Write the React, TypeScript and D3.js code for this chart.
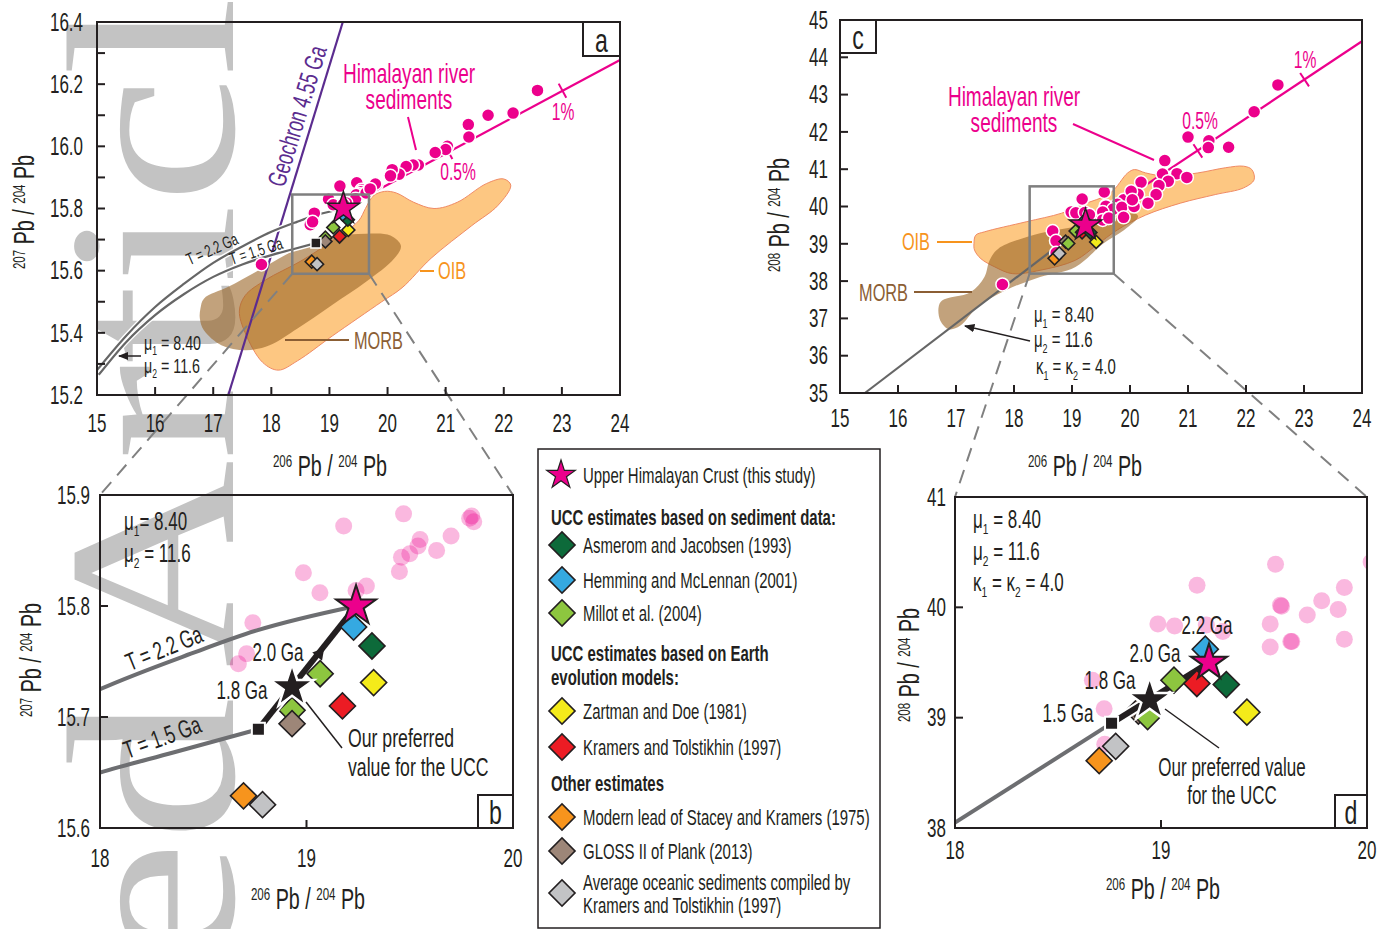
import React from "react";
import * as d3 from "d3";

const FONT = "'Liberation Sans',Arial,sans-serif";
const K = 0.68; // horizontal squeeze to mimic a condensed face
const INK = "#231f20";

// Himalayan river sediments, 206Pb/204Pb vs 207Pb/204Pb
const sed207: [number, number][] = [
  [19.47, 15.883], [19.18, 15.872], [19.8, 15.881], [19.81, 15.876], [19.79, 15.879],
  [19.55, 15.86], [19.54, 15.854], [19.5, 15.847], [19.46, 15.844], [19.45, 15.831],
  [19.63, 15.85], [19.7, 15.863], [18.985, 15.83], [19.065, 15.812], [19.29, 15.818],
  [19.24, 15.814], [18.74, 15.785], [18.67, 15.748], [18.71, 15.757],
  [22.58, 16.18], [21.73, 16.1], [22.16, 16.107], [21.39, 16.07], [21.4, 16.03],
  [21.03, 16.0], [21.0, 15.99], [20.82, 15.98], [20.53, 15.94], [20.44, 15.94],
  [20.32, 15.935], [20.2, 15.91], [20.08, 15.925], [20.05, 15.905], [17.83, 15.62],
];

// Himalayan river sediments, 206Pb/204Pb vs 208Pb/204Pb
const sed208: [number, number][] = [
  [19.556, 40.39], [19.175, 40.2], [19.89, 40.18], [19.58, 40.02], [19.585, 40.01],
  [19.78, 40.06], [19.71, 39.93], [19.86, 39.98], [19.53, 39.85], [18.985, 39.85],
  [19.066, 39.83], [19.22, 39.84], [19.3, 39.78], [19.53, 39.64], [19.63, 39.69],
  [19.635, 39.69], [19.89, 39.71], [18.667, 39.34], [18.724, 39.08], [18.727, 38.76],
  [22.55, 43.26], [22.14, 42.54], [21.0, 41.86], [21.36, 41.76], [21.35, 41.58],
  [21.7, 41.59], [20.6, 41.23], [20.56, 40.87], [20.81, 40.88], [20.98, 40.78],
  [20.66, 40.68], [20.5, 40.56], [20.45, 40.32], [20.31, 40.09], [20.19, 40.65],
  [20.14, 40.33], [20.07, 40.0], [20.02, 40.41], [20.04, 40.18], [17.8, 37.91],
];

// OIB and MORB fields
const oib207: [number, number][] = [
  [17.45, 15.47], [17.55, 15.52], [17.9, 15.57], [18.5, 15.63], [19.0, 15.69], [19.5, 15.76],
  [19.62, 15.8], [19.75, 15.84], [19.95, 15.855], [20.15, 15.85], [20.45, 15.82], [20.8, 15.8],
  [21.2, 15.82], [21.7, 15.88], [22.0, 15.895], [22.12, 15.875], [21.9, 15.81], [21.45, 15.745],
  [20.75, 15.64], [20.25, 15.545], [19.9, 15.5], [19.05, 15.39], [18.45, 15.31], [18.12, 15.28],
  [17.85, 15.305], [17.55, 15.4],
];
const morb207: [number, number][] = [
  [16.78, 15.478], [16.84, 15.51], [17.26, 15.548], [17.73, 15.596], [18.45, 15.67],
  [19.04, 15.708], [19.63, 15.719], [20.05, 15.713], [20.23, 15.68], [20.11, 15.638],
  [19.63, 15.564], [19.04, 15.489], [18.45, 15.414], [17.97, 15.36], [17.56, 15.344],
  [17.14, 15.36], [16.84, 15.408], [16.77, 15.446],
];
const oib208: [number, number][] = [
  [17.31, 39.01], [17.34, 39.23], [17.49, 39.32], [18.21, 39.59], [18.82, 39.82], [19.18, 40.05],
  [19.66, 40.36], [19.96, 40.9], [20.08, 40.99], [20.27, 40.9], [20.63, 40.81], [21.17, 40.9],
  [21.65, 41.04], [21.96, 41.08], [22.1, 40.99], [22.14, 40.72], [21.96, 40.5], [21.47, 40.32],
  [20.87, 40.09], [20.27, 39.77], [19.78, 39.37], [19.42, 38.96], [19.06, 38.56], [18.45, 38.29],
  [17.97, 38.2], [17.67, 38.38], [17.43, 38.6], [17.32, 38.83],
];
const morb208: [number, number][] = [
  [16.7, 37.3], [16.76, 37.48], [17.25, 37.7], [17.49, 38.11], [17.58, 38.56], [17.73, 38.87],
  [18.45, 39.28], [19.06, 39.46], [19.66, 39.64], [20.08, 39.82], [20.14, 39.73], [19.9, 39.37],
  [19.54, 39.01], [19.06, 38.38], [18.45, 38.11], [17.85, 37.75], [17.37, 37.3], [17.07, 36.8],
  [16.88, 36.71], [16.73, 36.94],
];

// growth curves, geochron, mixing lines
const curve22: [number, number][] = [
  [15.0, 15.28], [15.5, 15.39], [16, 15.483], [16.5, 15.558], [17, 15.625], [17.5, 15.678],
  [18, 15.725], [18.44, 15.757], [18.76, 15.778], [19.24, 15.8],
];
const curve15: [number, number][] = [
  [15.03, 15.265], [15.5, 15.37], [16, 15.457], [16.5, 15.525], [17, 15.58], [17.5, 15.62],
  [18, 15.65], [18.355, 15.668], [18.767, 15.689],
];
const growth208: [number, number][] = [[15.43, 35.0], [18.76, 38.95]];
const geochron: [number, number][] = [[17.26, 15.2], [19.23, 16.4]];
const mix207: [number, number][] = [[19.24, 15.8], [24, 16.278]];
const mix207Ticks: [number, number][] = [[21.05, 15.982], [23.01, 16.179]];
const mix208: [number, number][] = [[19.23, 39.5], [24, 44.43]];
const mix208Ticks: [number, number][] = [[21.17, 41.49], [23.01, 43.4]];

// UCC estimates
const estKeys = ["asm", "hem", "mil", "zar", "kra", "sta", "glo", "avg"];
const estColors = ["#0d6a3a", "#35a9e1", "#8dc63f", "#f4eb1a", "#ec1c24", "#f7941d", "#9d8678", "#c2c3c5"];
const estLabels = [
  "Asmerom and Jacobsen (1993)", "Hemming and McLennan (2001)", "Millot et al. (2004)",
  "Zartman and Doe (1981)", "Kramers and Tolstikhin (1997)", "Modern lead of Stacey and Kramers (1975)",
  "GLOSS II of Plank (2013)", "Average oceanic sediments compiled by|Kramers and Tolstikhin (1997)",
];
const est207: [string, number, number][] = [
  ["sta", 18.695, 15.629], ["avg", 18.787, 15.621], ["mil", 18.93, 15.706], ["glo", 18.93, 15.694],
  ["mil", 19.066, 15.739], ["kra", 19.174, 15.71], ["zar", 19.325, 15.731], ["asm", 19.317, 15.764],
  ["hem", 19.228, 15.781],
];
const est208: [string, number, number][] = [
  ["sta", 18.7, 38.61], ["avg", 18.78, 38.74], ["glo", 18.89, 39.06], ["mil", 18.935, 39.01],
  ["mil", 19.063, 39.34], ["kra", 19.174, 39.31], ["asm", 19.317, 39.3], ["zar", 19.417, 39.05],
  ["hem", 19.215, 39.62],
];
const himStar207: [number, number] = [19.24, 15.8];
const himStar208: [number, number] = [19.233, 39.5];
const ucc207: [number, number] = [18.93, 15.727];
const ucc208: [number, number] = [18.945, 39.16];
const start207: [number, number] = [18.767, 15.689];
const start208: [number, number] = [18.76, 38.95];
const twoGa207: [number, number] = [19.063, 15.757];
const box207 = { x: [18.36, 19.68], y: [15.59, 15.845] };
const box208 = { x: [18.27, 19.72], y: [38.2, 40.54] };

const colorOf = new Map(estKeys.map((k, i) => [k, estColors[i]]));
const MAG = "#ec008c";

const xa = d3.scaleLinear().domain([15, 24]).range([97, 620]);
const ya = d3.scaleLinear().domain([15.2, 16.4]).range([395, 22]);
const xc = d3.scaleLinear().domain([15, 24]).range([840, 1362]);
const yc = d3.scaleLinear().domain([35, 45]).range([393, 20]);
const xb = d3.scaleLinear().domain([18, 20]).range([100, 513]);
const yb = d3.scaleLinear().domain([15.6, 15.9]).range([828, 495]);
const xd = d3.scaleLinear().domain([18, 20]).range([955, 1367]);
const yd = d3.scaleLinear().domain([38, 41]).range([828, 497]);

type S = d3.ScaleLinear<number, number>;
const sym = (t: d3.SymbolType, size: number) => d3.symbol().type(t).size(size)() as string;
const starPath = (r: number) => sym(d3.symbolStar, (r * r) / 0.8908130915292852);

// condensed text
function T({ x, y, r = 0, s, a = "start", fill = INK, w, c, children }: any) {
  return (
    <text transform={`translate(${x},${y}) rotate(${r}) scale(${K},1)`} textAnchor={a} fontSize={s}
      fontWeight={w} fill={fill} fontFamily={FONT} dy={c ? "0.35em" : undefined}>
      {children}
    </text>
  );
}

function Diamonds({ sx, sy, data, size }: { sx: S; sy: S; data: [string, number, number][]; size: number }) {
  return (
    <g>
      {data.map(([k, x, y], i) => (
        <path key={i} d={sym(d3.symbolSquare, size)} transform={`translate(${sx(x)},${sy(y)}) rotate(45)`}
          fill={colorOf.get(k)} stroke={INK} strokeWidth={1.6} />
      ))}
    </g>
  );
}

function Dots({ sx, sy, data, r, pale }: { sx: S; sy: S; data: [number, number][]; r: number; pale?: boolean }) {
  return (
    <g>
      {data.map(([x, y], i) =>
        pale ? (
          <circle key={i} cx={sx(x)} cy={sy(y)} r={r} fill={MAG} fillOpacity={0.28} />
        ) : (
          <circle key={i} cx={sx(x)} cy={sy(y)} r={r} fill={MAG} stroke="#fff" strokeWidth={1.5} />
        )
      )}
    </g>
  );
}

function Frame({ sx, sy, xt, yt, ym, xl, yl, xFmt, yFmt, len, xLabY, yLabX }: any) {
  const [x0, x1] = sx.range();
  const [y0, y1] = sy.range();
  return (
    <g>
      {xt.map((t: number) => (
        <line key={"x" + t} x1={sx(t)} x2={sx(t)} y1={y0} y2={y0 - len} stroke={INK} strokeWidth={2} />
      ))}
      {(ym || []).concat(yt).map((t: number, i: number) => (
        <line key={"y" + i} x1={x0} x2={x0 + len} y1={sy(t)} y2={sy(t)} stroke={INK} strokeWidth={2} />
      ))}
      <rect x={x0} y={y1} width={x1 - x0} height={y0 - y1} fill="none" stroke={INK} strokeWidth={2} />
      {xl.map((t: number) => (
        <T key={"xl" + t} x={sx(t)} y={xLabY} a="middle" s={25}>{xFmt(t)}</T>
      ))}
      {yl.map((t: number) => (
        <T key={"yl" + t} x={yLabX} y={sy(t)} c a="end" s={25}>{yFmt(t)}</T>
      ))}
    </g>
  );
}

function PbTitle({ x, y, top, rot }: { x: number; y: number; top: string; rot?: boolean }) {
  return (
    <T x={x} y={y} r={rot ? -90 : 0} a="middle" s={29}>
      <tspan fontSize={17} dy={-9}>{top}</tspan>
      <tspan dy={9}> Pb / </tspan>
      <tspan fontSize={17} dy={-9}>204</tspan>
      <tspan dy={9}> Pb</tspan>
    </T>
  );
}

function Mu({ x, y, n, v, fs }: { x: number; y: number; n: string; v: string; fs: number }) {
  return (
    <T x={x} y={y} s={fs}>
      μ<tspan fontSize={fs * 0.6} dy={fs * 0.25}>{n}</tspan>
      <tspan dy={-fs * 0.25}>{v}</tspan>
    </T>
  );
}

function Kappa({ x, y, fs }: { x: number; y: number; fs: number }) {
  return (
    <T x={x} y={y} s={fs}>
      κ<tspan fontSize={fs * 0.6} dy={fs * 0.25}>1</tspan>
      <tspan dy={-fs * 0.25}> = κ</tspan>
      <tspan fontSize={fs * 0.6} dy={fs * 0.25}>2</tspan>
      <tspan dy={-fs * 0.25}> = 4.0</tspan>
    </T>
  );
}

function MixTicks({ sx, sy, line, ticks }: { sx: S; sy: S; line: [number, number][]; ticks: [number, number][] }) {
  const dx = sx(line[1][0]) - sx(line[0][0]);
  const dy = sy(line[1][1]) - sy(line[0][1]);
  const L = Math.hypot(dx, dy);
  const nx = -dy / L, ny = dx / L;
  return (
    <g>
      {ticks.map(([x, y], i) => (
        <line key={i} x1={sx(x) - nx * 8} y1={sy(y) - ny * 8} x2={sx(x) + nx * 8} y2={sy(y) + ny * 8}
          stroke={MAG} strokeWidth={2} />
      ))}
    </g>
  );
}

function PanelLetter({ x, y, w, h, t }: { x: number; y: number; w: number; h: number; t: string }) {
  return (
    <g>
      <rect x={x} y={y} width={w} height={h} fill="#fff" stroke={INK} strokeWidth={2} />
      <T x={x + w / 2} y={y + h / 2 + 1} c a="middle" s={34}>{t}</T>
    </g>
  );
}

export default function App() {
  const lineA = d3.line<[number, number]>().x((d) => xa(d[0])).y((d) => ya(d[1])).curve(d3.curveMonotoneX);
  const lineB = d3.line<[number, number]>().x((d) => xb(d[0])).y((d) => yb(d[1])).curve(d3.curveMonotoneX);
  const lineC = d3.line<[number, number]>().x((d) => xc(d[0])).y((d) => yc(d[1]));
  const lineD = d3.line<[number, number]>().x((d) => xd(d[0])).y((d) => yd(d[1]));
  const areaA = d3.line<[number, number]>().x((d) => xa(d[0])).y((d) => ya(d[1])).curve(d3.curveCatmullRomClosed);
  const areaC = d3.line<[number, number]>().x((d) => xc(d[0])).y((d) => yc(d[1])).curve(d3.curveCatmullRomClosed);
  const straightA = d3.line<[number, number]>().x((d) => xa(d[0])).y((d) => ya(d[1]));

  const inB = sed207.filter(([x, y]) => x >= 17.9 && x <= 20.1 && y >= 15.58 && y <= 15.92);
  const inD = sed208.filter(([x, y]) => x >= 17.9 && x <= 20.1 && y >= 37.9 && y <= 41.1);
  const dash = { stroke: "#808080", strokeWidth: 2, strokeDasharray: "14 9", fill: "none" };
  // growth line of panel c continued to the left edge of panel d
  const g208slope = (growth208[1][1] - growth208[0][1]) / (growth208[1][0] - growth208[0][0]);
  const growthD: [number, number][] = [[18, growth208[1][1] - (growth208[1][0] - 18) * g208slope], growth208[1]];

  return (
    <svg width={1394} height={929} style={{ position: "absolute", left: 0, top: 0, background: "#fff" }}>
      <defs>
        <clipPath id="clipB"><rect x={100} y={495} width={413} height={333} /></clipPath>
        <clipPath id="clipD"><rect x={955} y={497} width={412} height={331} /></clipPath>
        <marker id="arr" viewBox="0 0 10 10" refX={9} refY={5} markerWidth={7} markerHeight={7} orient="auto-start-reverse">
          <path d="M0,1 L10,5 L0,9 z" fill={INK} />
        </marker>
      </defs>

      {/* watermark */}
      <g fontFamily="'Liberation Serif',serif" fontSize={240} fill="#c3c3c3">
        <text transform="translate(233,668) rotate(-90) scale(1.2,1)">Article</text>
        <text transform="translate(233,697) rotate(-90) scale(1.2,1)" textAnchor="end">Accepted</text>
      </g>

      {/* ---------------- panel a ---------------- */}
      <path d={areaA(oib207) as string} fill="#fdc782" stroke="#f08a64" strokeWidth={1} />
      <path d={areaA(morb207) as string} fill="#9a6424" fillOpacity={0.6} />
      <path d={straightA(geochron) as string} stroke="#5b2c8f" strokeWidth={2.2} fill="none" />
      <path d={straightA(mix207) as string} stroke={MAG} strokeWidth={2.2} fill="none" />
      <MixTicks sx={xa} sy={ya} line={mix207} ticks={mix207Ticks} />
      <path d={lineA(curve22) as string} stroke="#fff" strokeWidth={5} fill="none" />
      <path d={lineA(curve15) as string} stroke="#fff" strokeWidth={5} fill="none" />
      <path d={lineA(curve22) as string} stroke="#666" strokeWidth={2.2} fill="none" />
      <path d={lineA(curve15) as string} stroke="#666" strokeWidth={2.2} fill="none" />
      <Dots sx={xa} sy={ya} data={sed207} r={6.5} />
      <rect x={xa(box207.x[0])} y={ya(box207.y[1])} width={xa(box207.x[1]) - xa(box207.x[0])}
        height={ya(box207.y[0]) - ya(box207.y[1])} fill="none" stroke="#7f7f7f" strokeWidth={2.5} />
      <line x1={xa(box207.x[0])} y1={ya(box207.y[0])} x2={xb.range()[0]} y2={yb.range()[1]} {...dash} />
      <line x1={xa(box207.x[1])} y1={ya(box207.y[0])} x2={xb.range()[1]} y2={yb.range()[1]} {...dash} />
      <Diamonds sx={xa} sy={ya} data={est207} size={85} />
      <path d={sym(d3.symbolSquare, 100)} transform={`translate(${xa(start207[0])},${ya(start207[1])})`}
        fill={INK} stroke="#fff" strokeWidth={1.5} />
      <path d={starPath(17)} transform={`translate(${xa(himStar207[0])},${ya(himStar207[1])})`}
        fill={MAG} stroke={INK} strokeWidth={1.5} />
      <Frame sx={xa} sy={ya} xt={d3.range(16, 24)} yt={d3.range(15.4, 16.4, 0.2)} ym={d3.range(15.3, 16.4, 0.2)}
        xl={d3.range(15, 25)} yl={[15.2, 15.4, 15.6, 15.8, 16.0, 16.2, 16.4]} xFmt={(t: number) => t}
        yFmt={(t: number) => t.toFixed(1)} len={8} xLabY={432} yLabX={83} />
      <PanelLetter x={583} y={22} w={37} h={34} t="a" />
      <PbTitle x={330} y={476} top="206" />
      <PbTitle x={34} y={212} top="207" rot />
      <T x={297} y={116} r={-72.9} c a="middle" s={26} fill="#5b2c8f">Geochron 4.55 Ga</T>
      <T x={409} y={83} a="middle" s={28} fill={MAG}>Himalayan river</T>
      <T x={409} y={109} a="middle" s={28} fill={MAG}>sediments</T>
      <line x1={408} y1={117} x2={416} y2={150} stroke={MAG} strokeWidth={2} />
      <T x={458} y={180} a="middle" s={23} fill={MAG}>0.5%</T>
      <T x={563} y={120} a="middle" s={23} fill={MAG}>1%</T>
      <line x1={420} y1={271} x2={434} y2={271} stroke="#f7941d" strokeWidth={2} />
      <T x={438} y={279} s={24} fill="#f7941d">OIB</T>
      <line x1={285} y1={340} x2={349} y2={340} stroke="#8b5e34" strokeWidth={2} />
      <T x={354} y={349} s={24} fill="#8b5e34">MORB</T>
      <T x={212} y={249} r={-24} c a="middle" s={17}>T = 2.2 Ga</T>
      <T x={256} y={251} r={-18} c a="middle" s={17}>T = 1.5 Ga</T>
      <line x1={141} y1={356} x2={119} y2={356} stroke={INK} strokeWidth={1.5} markerEnd="url(#arr)" />
      <Mu x={144} y={350} n="1" v=" = 8.40" fs={21} />
      <Mu x={144} y={373} n="2" v=" = 11.6" fs={21} />

      {/* ---------------- panel c ---------------- */}
      <path d={areaC(oib208) as string} fill="#fdc782" stroke="#f08a64" strokeWidth={1} />
      <path d={areaC(morb208) as string} fill="#9a6424" fillOpacity={0.6} />
      <path d={lineC(growth208) as string} stroke="#666" strokeWidth={2.2} fill="none" />
      <path d={lineC(mix208) as string} stroke={MAG} strokeWidth={2.2} fill="none" />
      <MixTicks sx={xc} sy={yc} line={mix208} ticks={mix208Ticks} />
      <Dots sx={xc} sy={yc} data={sed208} r={6.5} />
      <rect x={xc(box208.x[0])} y={yc(box208.y[1])} width={xc(box208.x[1]) - xc(box208.x[0])}
        height={yc(box208.y[0]) - yc(box208.y[1])} fill="none" stroke="#7f7f7f" strokeWidth={2.5} />
      <line x1={xc(box208.x[0])} y1={yc(box208.y[0])} x2={xd.range()[0]} y2={yd.range()[1]} {...dash} />
      <line x1={xc(box208.x[1])} y1={yc(box208.y[0])} x2={xd.range()[1]} y2={yd.range()[1]} {...dash} />
      <Diamonds sx={xc} sy={yc} data={est208} size={85} />
      <path d={starPath(17)} transform={`translate(${xc(himStar208[0])},${yc(himStar208[1])})`}
        fill={MAG} stroke={INK} strokeWidth={1.5} />
      <Frame sx={xc} sy={yc} xt={d3.range(16, 24)} yt={d3.range(36, 45)} xl={d3.range(15, 25)}
        yl={d3.range(35, 46)} xFmt={(t: number) => t} yFmt={(t: number) => t} len={8} xLabY={427} yLabX={828} />
      <PanelLetter x={840} y={20} w={36} h={33} t="c" />
      <PbTitle x={1085} y={476} top="206" />
      <PbTitle x={789} y={215} top="208" rot />
      <T x={1014} y={106} a="middle" s={28} fill={MAG}>Himalayan river</T>
      <T x={1014} y={132} a="middle" s={28} fill={MAG}>sediments</T>
      <line x1={1073} y1={124} x2={1154} y2={160} stroke={MAG} strokeWidth={2} />
      <T x={1200} y={129} a="middle" s={23} fill={MAG}>0.5%</T>
      <T x={1305} y={68} a="middle" s={23} fill={MAG}>1%</T>
      <line x1={937} y1={242} x2={972} y2={242} stroke="#f7941d" strokeWidth={2} />
      <T x={930} y={250} a="end" s={24} fill="#f7941d">OIB</T>
      <line x1={914} y1={292} x2={972} y2={292} stroke="#8b5e34" strokeWidth={2} />
      <T x={908} y={301} a="end" s={24} fill="#8b5e34">MORB</T>
      <line x1={1030} y1={341} x2={965} y2={326} stroke={INK} strokeWidth={1.5} markerEnd="url(#arr)" />
      <Mu x={1034} y={322} n="1" v=" = 8.40" fs={22} />
      <Mu x={1034} y={347} n="2" v=" = 11.6" fs={22} />
      <Kappa x={1036} y={374} fs={22} />

      {/* ---------------- panel b ---------------- */}
      <g clipPath="url(#clipB)">
        <Dots sx={xb} sy={yb} data={inB} r={8.5} pale />
        <path d={lineB(curve22) as string} stroke="#6d6e71" strokeWidth={4} fill="none" />
        <path d={lineB(curve15) as string} stroke="#6d6e71" strokeWidth={4} fill="none" />
      </g>
      <Diamonds sx={xb} sy={yb} data={est207.slice(0, 4)} size={340} />
      <line x1={xb(start207[0])} y1={yb(start207[1])} x2={xb(himStar207[0])} y2={yb(himStar207[1])}
        stroke="#fff" strokeWidth={10} />
      <line x1={xb(start207[0])} y1={yb(start207[1])} x2={xb(himStar207[0])} y2={yb(himStar207[1])}
        stroke={INK} strokeWidth={6} />
      <Diamonds sx={xb} sy={yb} data={est207.slice(4)} size={340} />
      <path d={sym(d3.symbolTriangle, 70)} transform={`translate(${xb(twoGa207[0])},${yb(twoGa207[1])}) rotate(40)`}
        fill={INK} />
      <path d={sym(d3.symbolSquare, 170)} transform={`translate(${xb(start207[0])},${yb(start207[1])})`}
        fill={INK} stroke="#fff" strokeWidth={2} />
      <path d={starPath(23)} transform={`translate(${xb(ucc207[0])},${yb(ucc207[1])})`}
        fill={INK} stroke="#fff" strokeWidth={2.5} />
      <path d={starPath(21)} transform={`translate(${xb(himStar207[0])},${yb(himStar207[1])})`}
        fill={MAG} stroke={INK} strokeWidth={2} />
      <Frame sx={xb} sy={yb} xt={[19]} yt={[15.7, 15.8]} xl={[18, 19, 20]} yl={[15.6, 15.7, 15.8, 15.9]}
        xFmt={(t: number) => t} yFmt={(t: number) => t.toFixed(1)} len={8} xLabY={867} yLabX={90} />
      <PanelLetter x={478} y={795} w={35} h={33} t="b" />
      <PbTitle x={308} y={909} top="206" />
      <PbTitle x={41} y={660} top="207" rot />
      <T x={164} y={648} r={-22} c a="middle" s={25}>T = 2.2 Ga</T>
      <T x={162} y={737} r={-20} c a="middle" s={25}>T = 1.5 Ga</T>
      <T x={278} y={652} c a="middle" s={25}>2.0 Ga</T>
      <T x={242} y={690} c a="middle" s={25}>1.8 Ga</T>
      <line x1={306} y1={702} x2={342} y2={748} stroke={INK} strokeWidth={1.5} />
      <T x={348} y={747} s={26}>Our preferred</T>
      <T x={348} y={776} s={26}>value for the UCC</T>
      <Mu x={124} y={530} n="1" v="= 8.40" fs={25} />
      <Mu x={124} y={562} n="2" v=" = 11.6" fs={25} />

      {/* ---------------- panel d ---------------- */}
      <g clipPath="url(#clipD)">
        <Dots sx={xd} sy={yd} data={inD} r={8.5} pale />
        <path d={lineD(growthD) as string} stroke="#6d6e71" strokeWidth={4} fill="none" />
      </g>
      <Diamonds sx={xd} sy={yd} data={est208.slice(0, 4)} size={340} />
      <line x1={xd(start208[0])} y1={yd(start208[1])} x2={xd(himStar208[0])} y2={yd(himStar208[1])}
        stroke="#fff" strokeWidth={10} />
      <line x1={xd(start208[0])} y1={yd(start208[1])} x2={xd(himStar208[0])} y2={yd(himStar208[1])}
        stroke={INK} strokeWidth={6} />
      <Diamonds sx={xd} sy={yd} data={est208.slice(4)} size={340} />
      <path d={sym(d3.symbolSquare, 170)} transform={`translate(${xd(start208[0])},${yd(start208[1])})`}
        fill={INK} stroke="#fff" strokeWidth={2} />
      <path d={starPath(23)} transform={`translate(${xd(ucc208[0])},${yd(ucc208[1])})`}
        fill={INK} stroke="#fff" strokeWidth={2.5} />
      <path d={starPath(19)} transform={`translate(${xd(himStar208[0])},${yd(himStar208[1])})`}
        fill={MAG} stroke={INK} strokeWidth={2} />
      <Frame sx={xd} sy={yd} xt={[19]} yt={[39, 40]} xl={[18, 19, 20]} yl={[38, 39, 40, 41]}
        xFmt={(t: number) => t} yFmt={(t: number) => t} len={8} xLabY={859} yLabX={946} />
      <PanelLetter x={1335} y={795} w={32} h={33} t="d" />
      <PbTitle x={1163} y={899} top="206" />
      <PbTitle x={919} y={665} top="208" rot />
      <T x={1207} y={625} c a="middle" s={25}>2.2 Ga</T>
      <T x={1155} y={653} c a="middle" s={25}>2.0 Ga</T>
      <T x={1110} y={680} c a="middle" s={25}>1.8 Ga</T>
      <T x={1068} y={713} c a="middle" s={25}>1.5 Ga</T>
      <line x1={1165} y1={709} x2={1219} y2={748} stroke={INK} strokeWidth={1.5} />
      <T x={1232} y={776} a="middle" s={25}>Our preferred value</T>
      <T x={1232} y={804} a="middle" s={25}>for the UCC</T>
      <Mu x={973} y={528} n="1" v=" = 8.40" fs={25} />
      <Mu x={973} y={560} n="2" v=" = 11.6" fs={25} />
      <Kappa x={973} y={591} fs={25} />

      {/* ---------------- legend ---------------- */}
      <rect x={538} y={449} width={342} height={479} fill="#fff" stroke={INK} strokeWidth={1.5} />
      <path d={starPath(15)} transform="translate(561,475)" fill={MAG} stroke={INK} strokeWidth={1.2} />
      <T x={583} y={483} s={22}>Upper Himalayan Crust (this study)</T>
      <T x={551} y={525} s={22} w="bold">UCC estimates based on sediment data:</T>
      <T x={551} y={661} s={22} w="bold">UCC estimates based on Earth</T>
      <T x={551} y={685} s={22} w="bold">evolution models:</T>
      <T x={551} y={791} s={22} w="bold">Other estimates</T>
      {estKeys.map((k, i) => {
        const ys = [545, 580, 613, 711, 747, 817, 851, 893][i];
        const lines = estLabels[i].split("|");
        return (
          <g key={k}>
            <path d={sym(d3.symbolSquare, 340)} transform={`translate(562,${ys}) rotate(45)`}
              fill={estColors[i]} stroke={INK} strokeWidth={1.6} />
            {lines.map((l, j) => (
              <T key={j} x={583} y={ys + 8 + (lines.length > 1 ? (j - 0.5) * 23 : 0)} s={22}>{l}</T>
            ))}
          </g>
        );
      })}
    </svg>
  );
}
